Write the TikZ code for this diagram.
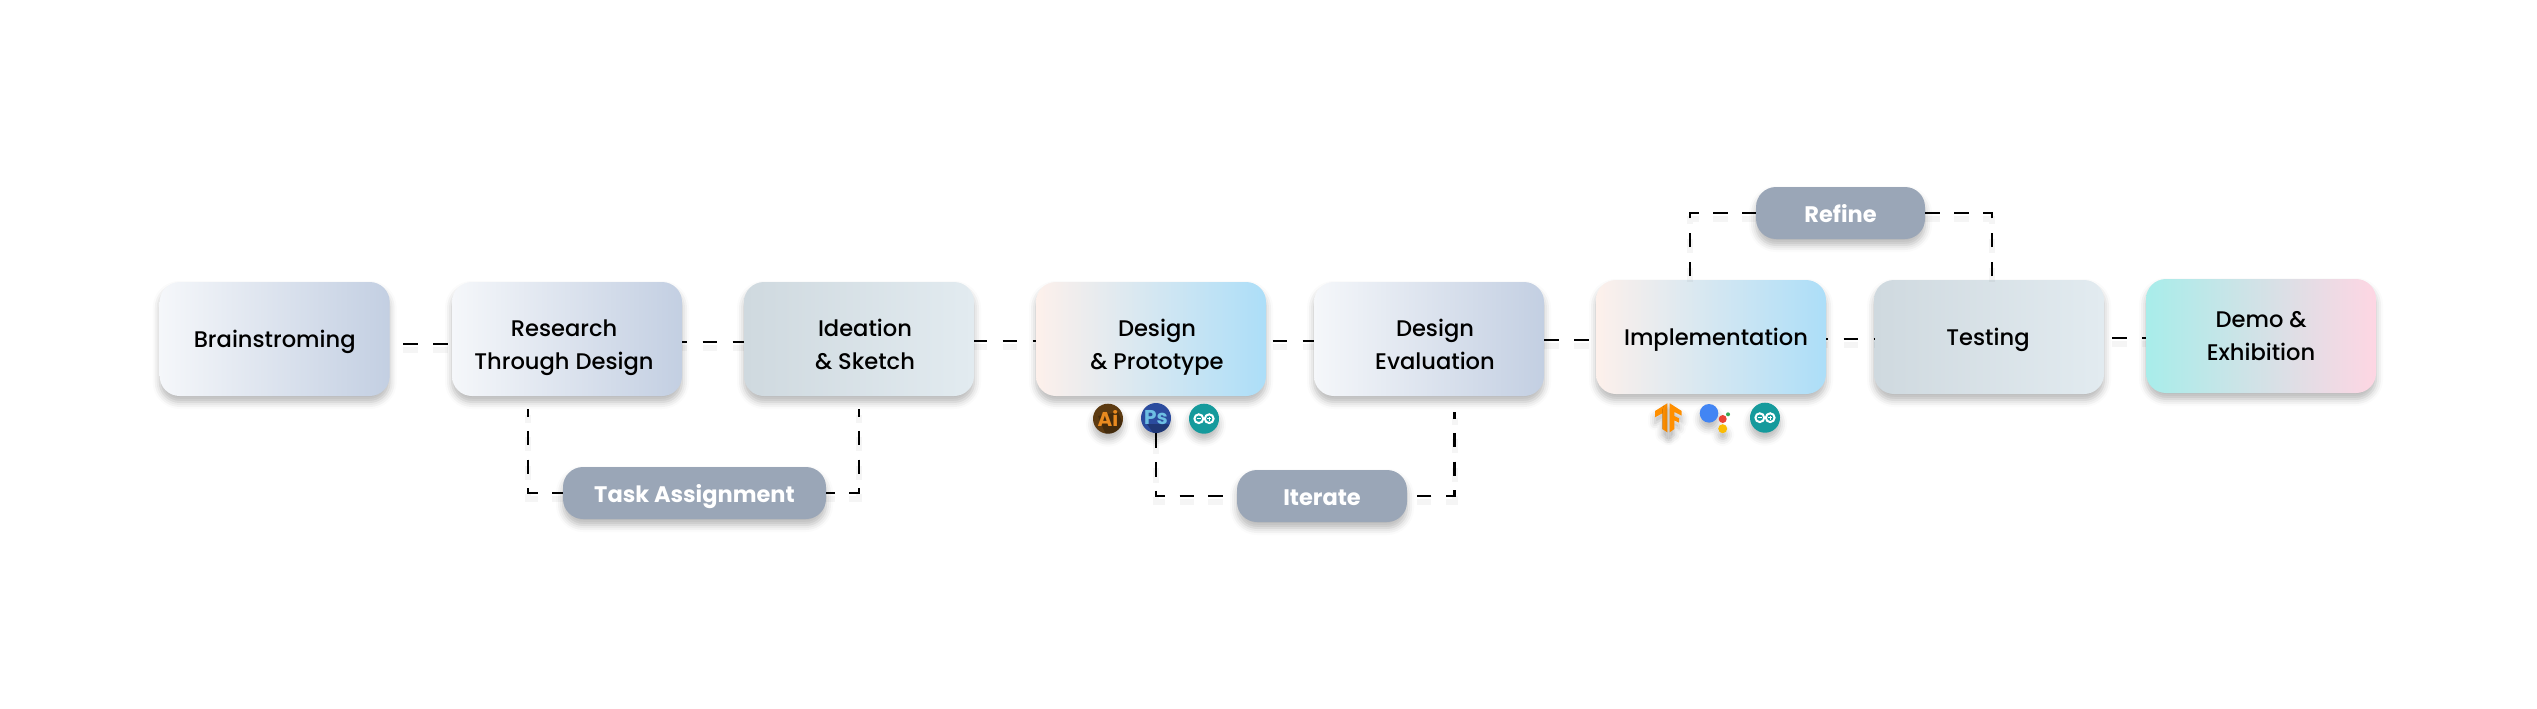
\documentclass[tikz,border=0pt]{standalone}
\usepackage{fontspec}
\setmainfont{Poppins}
\newfontfamily\stepfont{Poppins Medium}
\usetikzlibrary{shadows.blur}

\definecolor{pillgrey}{HTML}{9AA6B7}
\definecolor{coolA}{HTML}{F5F7FA}
\definecolor{coolB}{HTML}{C3CFE2}
\definecolor{mistA}{HTML}{CFD9DF}
\definecolor{mistB}{HTML}{E2EBF0}
\definecolor{skyA}{HTML}{FDF0EB}
\definecolor{skyB}{HTML}{ACDEF8}
\definecolor{demoA}{HTML}{A8EDEA}
\definecolor{demoB}{HTML}{FED6E3}
\definecolor{aiBack}{HTML}{5C3A11}
\definecolor{aiText}{HTML}{E98A1F}
\definecolor{psBack}{HTML}{2B4B9E}
\definecolor{psText}{HTML}{6DBFE3}
\definecolor{arduino}{HTML}{159A9C}
\definecolor{tfOrange}{HTML}{FF8F00}
\definecolor{gBlue}{HTML}{4285F4}
\definecolor{gRed}{HTML}{EA4335}
\definecolor{gYellow}{HTML}{FBBC04}
\definecolor{gGreen}{HTML}{34A853}

\tikzset{
    softshadow/.style={blur shadow={shadow xshift=0pt, shadow yshift=-6pt, shadow blur radius=7pt, shadow opacity=28}},
    stepbox/.style={rounded corners=20pt, minimum width=230pt, minimum height=114pt, inner sep=0pt, softshadow},
    steptext/.style={align=center, text=black, text height=16pt, text depth=0pt, inner sep=0pt,
        font=\stepfont\fontsize{22.6}{33}\selectfont},
    pillbox/.style={rounded corners=20pt, minimum height=52pt, inner sep=0pt, fill=pillgrey, softshadow,
        text=white, text height=18pt, text depth=0pt, font=\bfseries\fontsize{22.5}{26}\selectfont},
    iconball/.style={circle, minimum size=30pt, inner sep=0pt, softshadow},
    icontext/.style={font=\bfseries\fontsize{20}{20}\selectfont, inner sep=0pt},
    flowline/.style={line width=2.3pt, dash pattern=on 14.5pt off 15.5pt, dash phase=#1,
        preaction={draw=black, opacity=.04, line width=6pt, dash pattern=on 14.5pt off 15.5pt, dash phase=#1,
            transform canvas={yshift=-6pt}}},
    loopline/.style={line width=2.3pt, dash pattern=on 14.5pt off 14.3pt, dash phase=#1,
        preaction={draw=black, opacity=.04, line width=6pt, dash pattern=on 14.5pt off 14.3pt, dash phase=#1,
            transform canvas={yshift=-6pt}}}
}

\begin{document}
\begin{tikzpicture}[x=1pt, y=-1pt]
    \useasboundingbox (0,0) rectangle (2537,709);

    % process boxes
    \node[stepbox, left color=coolA, right color=coolB] (brain) at (274.7,339) {};
    \node[stepbox, left color=coolA, right color=coolB] (research) at (567,339) {};
    \node[stepbox, left color=mistA, right color=mistB] (ideation) at (859,339) {};
    \node[stepbox, left color=skyA, right color=skyB] (design) at (1151,339) {};
    \node[stepbox, left color=coolA, right color=coolB] (evaluation) at (1429,339) {};
    \node[stepbox, left color=skyA, right color=skyB] (implement) at (1711,337) {};
    \node[stepbox, left color=mistA, right color=mistB] (testing) at (1989,337) {};
    \node[stepbox, left color=demoA, right color=demoB] (demo) at (2261,336) {};

    % box labels
    \node[steptext] (brainText) at (274.7,339.3) {Brainstroming};
    \node[steptext] (researchText) at (564,361) {Research\\Through Design};
    \node[steptext] (ideationText) at (865,361) {Ideation\\\& Sketch};
    \node[steptext] (designText) at (1157,361) {Design\\\& Prototype};
    \node[steptext] (evaluationText) at (1435,361) {Design\\Evaluation};
    \node[steptext] (implementText) at (1716,337) {Implementation};
    \node[steptext] (testingText) at (1988,337) {Testing};
    \node[steptext] (demoText) at (2261,352) {Demo \&\\Exhibition};

    % feedback pills
    \node[pillbox, minimum width=263pt] (task) at (694.5,493) {Task Assignment};
    \node[pillbox, minimum width=170pt] (iterate) at (1322,496) {Iterate};
    \node[pillbox, minimum width=169pt] (refine) at (1840.5,213) {Refine};

    % tools under design
    \node[iconball, fill=aiBack] (ai) at (1108,418.7) {};
    \node[iconball, fill=psBack] (ps) at (1156,418) {};
    \begin{scope}
        \clip (ai) circle (15);
        \fill[black, opacity=.25] (1098,416) -- (1118,412) -- (1130,440) -- (1108,440) -- cycle;
    \end{scope}
    \begin{scope}
        \clip (ps) circle (15);
        \fill[black, opacity=.25] (1147,424) -- (1168,424) -- (1180,440) -- (1158,440) -- cycle;
    \end{scope}
    \node[icontext, text=aiText] (aiLabel) at (ai) {Ai};
    \node[icontext, text=psText] (psLabel) at (ps) {Ps};

    % arduino icons
    \foreach \name/\xpos/\ypos in {arduinoA/1204/418.7, arduinoB/1765/417.7} {
        \node[iconball, fill=arduino] (\name) at (\xpos,\ypos) {};
        \draw[white, line width=2pt] (\xpos-5.2,\ypos) circle (4.4) (\xpos+5.2,\ypos) circle (4.4);
        \draw[white, line width=.8pt] (\xpos-7,\ypos) -- (\xpos-3.4,\ypos)
            (\xpos+3.4,\ypos) -- (\xpos+7,\ypos) (\xpos+5.2,\ypos-1.8) -- (\xpos+5.2,\ypos+1.8);
    }

    % tensorflow and assistant
    \fill[tfOrange, softshadow] (1667.3,403.3) -- (1655,411) -- (1655,417.3) -- (1662.3,413.3) -- (1662.3,429) -- (1667.3,432.3) -- cycle;
    \fill[tfOrange, softshadow] (1669.7,403.3) -- (1681.7,411) -- (1681.7,415.7) -- (1674.3,412) -- (1674.3,416) -- (1679,418.3) -- (1679,422.7) -- (1674.3,420.3) -- (1674.3,429) -- (1669.7,432.3) -- cycle;
    \node[circle, fill=gBlue, minimum size=18.6pt, inner sep=0pt, softshadow] (gBig) at (1709,413.3) {};
    \node[circle, fill=gRed, minimum size=8pt, inner sep=0pt] (gMid) at (1722.7,419) {};
    \node[circle, fill=gYellow, minimum size=9pt, inner sep=0pt, softshadow] (gLow) at (1722.7,428.7) {};
    \node[circle, fill=gGreen, minimum size=4pt, inner sep=0pt] (gTop) at (1728,414.3) {};

    % main flow
    \draw[flowline=16.5] ([yshift=-5]brain.east) -- ([yshift=-5]research.west);
    \draw[flowline=9.5] ([yshift=-3.3]research.east) -- ([yshift=-3.3]ideation.west);
    \draw[flowline=1.5] ([yshift=-2.3]ideation.east) -- ([yshift=-2.3]design.west);
    \draw[flowline=23.5] ([yshift=-1.7]design.east) -- ([yshift=-1.7]evaluation.west);
    \draw[flowline=0] ([yshift=-.7]evaluation.east) -- ([yshift=-2.7]implement.west);
    \draw[flowline=12.5] ([yshift=-2]implement.east) -- ([yshift=-2]testing.west);
    \draw[flowline=22] ([yshift=-1]testing.east) -- ([yshift=-2]demo.west);

    % feedback loops
    \coordinate (taskStartL) at (528,409);
    \coordinate (taskStartR) at (859,409);
    \coordinate (iterStart) at (1454.6,412);
    \draw[loopline=7] (taskStartL) |- (task.west);
    \draw[loopline=7] (taskStartR) |- (task.east);
    \draw[loopline=0] (ps.south) |- (iterate.west);
    \draw[loopline=8] (iterStart) |- (iterate.east);
    \draw[loopline=25] ([xshift=-21]implement.north) |- (refine.west);
    \draw[loopline=25] ([xshift=3]testing.north) |- (refine.east);
\end{tikzpicture}
\end{document}
